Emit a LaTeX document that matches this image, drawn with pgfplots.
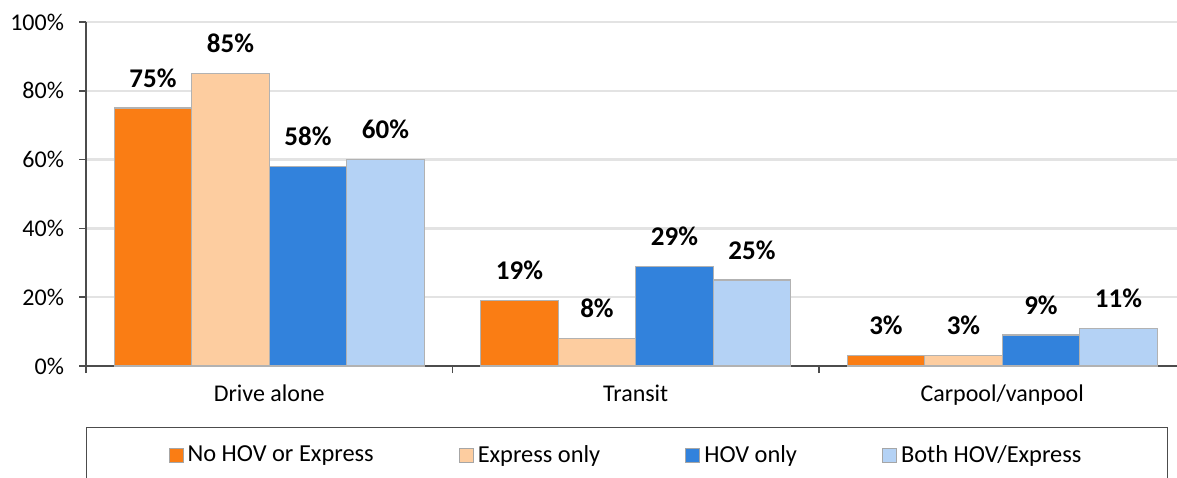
\documentclass[border=0pt]{standalone}
\usepackage{fontspec}
\setmainfont{Carlito}
\usepackage{pgfplots}
\pgfplotsset{compat=1.18}

\definecolor{cNone}{RGB}{250,125,20}
\definecolor{cExpr}{RGB}{253,205,160}
\definecolor{cHov}{RGB}{50,130,220}
\definecolor{cBoth}{RGB}{180,210,245}

\begin{document}
\begin{tikzpicture}
\useasboundingbox (0,0) rectangle (588.5pt,238.5pt);
\begin{axis}[
    at={(43pt,55.5pt)}, anchor=south west,
    scale only axis, width=545.5pt, height=172pt,
    ybar=0pt, bar width=38.75pt,
    xmin=-0.5, xmax=2.477, ymin=0, ymax=100,
    axis x line*=bottom, axis y line*=left,
    axis line style={draw=black!70, line width=0.8pt},
    tick align=outside, major tick length=3.5pt,
    tick style={draw=black!70, line width=0.8pt},
    ytick={0,20,40,60,80,100},
    yticklabel={\pgfmathprintnumber{\tick}\%},
    ymajorgrids, grid style={draw=gray!22, line width=1.2pt},
    xtick={-0.5,0.5,1.5}, xticklabels={},
    extra x ticks={0,1,2},
    extra x tick labels={Drive alone,Transit,Carpool/vanpool},
    extra x tick style={major tick length=0pt, grid=none},
    ticklabel style={font=\fontsize{12}{14}\selectfont, text=black},
    xticklabel style={yshift=-6pt},
    yticklabel style={xshift=-4pt},
    /pgf/number format/assume math mode=true,
    nodes near coords={\pgfmathprintnumber{\pgfplotspointmeta}\%},
    every node near coord/.append style={font=\fontsize{13.5}{15}\selectfont\bfseries, text=black, inner sep=0pt, yshift=10pt, anchor=south},
    legend columns=4,
    legend style={at={(0,-0.1773)}, anchor=north west, draw=black!70, line width=0.6pt,
        inner xsep=41pt, inner ysep=7pt,
        font=\fontsize{12.2}{14}\selectfont,
        /tikz/every even column/.append style={column sep=40.5pt}},
    legend image code/.code={\draw[#1, draw=gray!70, line width=0.5pt] (0pt,-3.5pt) rectangle (7pt,3.5pt);},
]
\addplot[fill=cNone, draw=black!30, line width=0.6pt] coordinates {(0,75) (1,19) (2,3)};
\addplot[fill=cExpr, draw=black!30, line width=0.6pt] coordinates {(0,85) (1,8) (2,3)};
\addplot[fill=cHov, draw=black!30, line width=0.6pt] coordinates {(0,58) (1,29) (2,9)};
\addplot[fill=cBoth, draw=black!30, line width=0.6pt] coordinates {(0,60) (1,25) (2,11)};
\legend{No HOV or Express, Express only, HOV only, Both HOV/Express}
\end{axis}
\end{tikzpicture}
\end{document}
